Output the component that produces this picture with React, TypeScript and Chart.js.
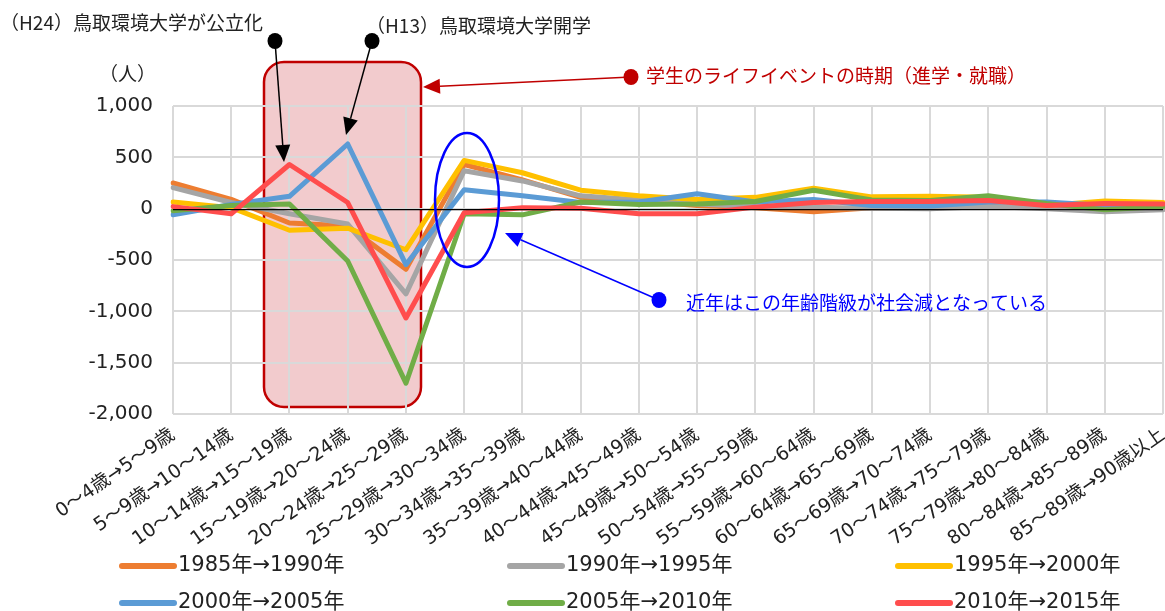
import React, { useEffect, useRef } from 'react';
import { Chart, registerables } from 'chart.js';

Chart.register(...registerables);

const categories = [
  '0～4歳→5～9歳',
  '5～9歳→10～14歳',
  '10～14歳→15～19歳',
  '15～19歳→20～24歳',
  '20～24歳→25～29歳',
  '25～29歳→30～34歳',
  '30～34歳→35～39歳',
  '35～39歳→40～44歳',
  '40～44歳→45～49歳',
  '45～49歳→50～54歳',
  '50～54歳→55～59歳',
  '55～59歳→60～64歳',
  '60～64歳→65～69歳',
  '65～69歳→70～74歳',
  '70～74歳→75～79歳',
  '75～79歳→80～84歳',
  '80～84歳→85～89歳',
  '85～89歳→90歳以上',
];

const seriesLabels = ['1985年→1990年', '1990年→1995年', '1995年→2000年', '2000年→2005年', '2005年→2010年', '2010年→2015年'];
const seriesColors = ['#ED7D31', '#A5A5A5', '#FFC000', '#5B9BD5', '#70AD47', '#FF4D4D'];

const s1985 = [250, 90, -140, -170, -590, 430, 280, 110, 75, 30, 10, -30, 10, 10, 20, 10, 10, 20];
const s1990 = [205, 60, -50, -150, -830, 370, 270, 125, 85, 45, 20, 15, 5, 0, 20, 0, -30, -10];
const s1995 = [65, 10, -210, -190, -400, 470, 350, 180, 125, 90, 110, 200, 115, 120, 110, 30, 75, 60];
const s2000 = [-60, 40, 120, 630, -545, 185, 125, 60, 65, 145, 65, 90, 30, 25, 65, 65, 30, 30];
const s2005 = [-20, 30, 45, -510, -1700, -50, -60, 65, 40, 45, 70, 180, 85, 80, 125, 50, -10, 20];
const s2010 = [20, -50, 430, 60, -1065, -40, 10, 5, -50, -50, 15, 60, 70, 70, 80, 30, 50, 45];
const seriesData = [s1985, s1990, s1995, s2000, s2005, s2010];

const yMin = -2000;
const yMax = 1000;
const yStep = 500;

const FONT = "'DejaVu Sans', 'Noto Sans CJK JP', sans-serif";
const JFONT = "'Noto Sans CJK JP', sans-serif";

function drawArrow(ctx: CanvasRenderingContext2D, x1: number, y1: number, x2: number, y2: number, color: string, lw: number, headLen: number, headW: number) {
  const ang = Math.atan2(y2 - y1, x2 - x1);
  const bx = x2 - headLen * Math.cos(ang);
  const by = y2 - headLen * Math.sin(ang);
  ctx.save();
  ctx.strokeStyle = color;
  ctx.fillStyle = color;
  ctx.lineWidth = lw;
  ctx.beginPath();
  ctx.moveTo(x1, y1);
  ctx.lineTo(bx, by);
  ctx.stroke();
  ctx.beginPath();
  ctx.moveTo(x2, y2);
  ctx.lineTo(bx + (headW / 2) * Math.sin(ang), by - (headW / 2) * Math.cos(ang));
  ctx.lineTo(bx - (headW / 2) * Math.sin(ang), by + (headW / 2) * Math.cos(ang));
  ctx.closePath();
  ctx.fill();
  ctx.restore();
}

function drawDot(ctx: CanvasRenderingContext2D, x: number, y: number, color: string) {
  ctx.save();
  ctx.fillStyle = color;
  ctx.beginPath();
  ctx.ellipse(x, y, 7.5, 8, 0, 0, Math.PI * 2);
  ctx.fill();
  ctx.restore();
}

const annotPlugin = {
  id: 'annot',
  beforeDraw(chart: any) {
    const ctx = chart.ctx as CanvasRenderingContext2D;
    ctx.save();
    const x = 264, y = 62, w = 157, h = 345, r = 20;
    ctx.beginPath();
    ctx.moveTo(x + r, y);
    ctx.lineTo(x + w - r, y);
    ctx.arcTo(x + w, y, x + w, y + r, r);
    ctx.lineTo(x + w, y + h - r);
    ctx.arcTo(x + w, y + h, x + w - r, y + h, r);
    ctx.lineTo(x + r, y + h);
    ctx.arcTo(x, y + h, x, y + h - r, r);
    ctx.lineTo(x, y + r);
    ctx.arcTo(x, y, x + r, y, r);
    ctx.closePath();
    ctx.fillStyle = '#F2CBCD';
    ctx.fill();
    ctx.lineWidth = 2.5;
    ctx.strokeStyle = '#C00000';
    ctx.stroke();
    ctx.restore();
  },
  afterDatasetsDraw(chart: any) {
    const ctx = chart.ctx as CanvasRenderingContext2D;
    const { left, right } = chart.chartArea;
    const y0 = chart.scales.y.getPixelForValue(0);
    ctx.save();
    ctx.strokeStyle = '#000';
    ctx.lineWidth = 1.3;
    ctx.beginPath();
    ctx.moveTo(left, y0 + 1);
    ctx.lineTo(right, y0 + 1);
    ctx.stroke();
    ctx.restore();
  },
  afterDraw(chart: any) {
    const ctx = chart.ctx as CanvasRenderingContext2D;
    ctx.save();
    ctx.textBaseline = 'middle';
    ctx.textAlign = 'left';
    ctx.font = `19px ${JFONT}`;
    ctx.fillStyle = '#222';
    ctx.fillText('（H24）鳥取環境大学が公立化', 0, 23);
    ctx.fillText('（H13）鳥取環境大学開学', 366, 26);
    ctx.textAlign = 'right';
    ctx.fillText('（人）', 156, 74);
    ctx.textAlign = 'left';
    ctx.fillStyle = '#C00000';
    ctx.fillText('学生のライフイベントの時期（進学・就職）', 646, 76);
    ctx.fillStyle = '#0000FF';
    ctx.fillText('近年はこの年齢階級が社会減となっている', 686, 303);

    // black arrows
    drawDot(ctx, 275, 41, '#000');
    drawDot(ctx, 372, 41, '#000');
    drawArrow(ctx, 275, 41, 284, 162, '#000', 1.5, 17, 15);
    drawArrow(ctx, 372, 41, 346, 135, '#000', 1.5, 17, 15);
    // red arrow
    drawDot(ctx, 631, 77, '#C00000');
    drawArrow(ctx, 631, 77, 423, 87, '#C00000', 1.6, 17, 15);
    // blue ellipse & arrow
    ctx.strokeStyle = '#0000FF';
    ctx.lineWidth = 2.5;
    ctx.beginPath();
    ctx.ellipse(467, 200, 32, 67, 0, 0, Math.PI * 2);
    ctx.stroke();
    drawDot(ctx, 659, 300, '#0000FF');
    drawArrow(ctx, 659, 300, 505, 233, '#0000FF', 1.5, 17, 15);

    // legend
    const cols = [119, 507, 895];
    const rows = [566, 603];
    ctx.font = `21px ${FONT}`;
    ctx.fillStyle = '#222';
    chart.data.datasets.forEach((ds: any, i: number) => {
      const x0 = cols[i % 3];
      const yy = rows[Math.floor(i / 3)];
      ctx.strokeStyle = ds.borderColor;
      ctx.lineWidth = 6;
      ctx.lineCap = 'round';
      ctx.beginPath();
      ctx.moveTo(x0 + 3, yy);
      ctx.lineTo(x0 + 55, yy);
      ctx.stroke();
      ctx.fillText(ds.label, x0 + 59, yy);
    });
    ctx.restore();
  },
};

export default function App() {
  const ref = useRef<HTMLCanvasElement>(null);
  useEffect(() => {
    document.body.style.margin = '0';
    const canvas = ref.current!;
    const chart = new Chart(canvas, {
      type: 'line',
      data: {
        labels: categories,
        datasets: seriesLabels.map((label, i) => ({
          label,
          data: seriesData[i],
          borderColor: seriesColors[i],
          backgroundColor: seriesColors[i],
          borderWidth: 5,
          pointRadius: 0,
          pointHoverRadius: 0,
          tension: 0,
          order: 6 - i,
          borderJoinStyle: 'round',
          borderCapStyle: 'round',
        })),
      },
      options: {
        responsive: false,
        animation: false,
        events: [],
        layout: { padding: { top: 106, left: 0, right: 2, bottom: 0 } },
        plugins: { legend: { display: false }, tooltip: { enabled: false } },
        scales: {
          x: {
            offset: false,
            grid: { color: '#D9D9D9', lineWidth: 2, drawTicks: false },
            border: { display: false },
            ticks: {
              autoSkip: false,
              minRotation: 35,
              maxRotation: 35,
              padding: 10,
              color: '#222',
              font: { family: FONT, size: 19 },
            },
            afterFit: (s: any) => {
              s.height = 197;
              s.paddingLeft = 0;
              s.paddingRight = 0;
            },
          },
          y: {
            min: yMin,
            max: yMax,
            grid: { color: '#D9D9D9', lineWidth: 2, drawTicks: false },
            border: { display: false },
            ticks: {
              stepSize: yStep,
              padding: 20,
              color: '#222',
              font: { family: FONT, size: 20 },
              callback: (v: any) => Number(v).toLocaleString('en-US'),
            },
            afterFit: (s: any) => {
              s.width = 173;
            },
          },
        },
      },
      plugins: [annotPlugin],
    });
    return () => chart.destroy();
  }, []);
  return <canvas ref={ref} width={1165} height={611} style={{ display: 'block' }} />;
}
